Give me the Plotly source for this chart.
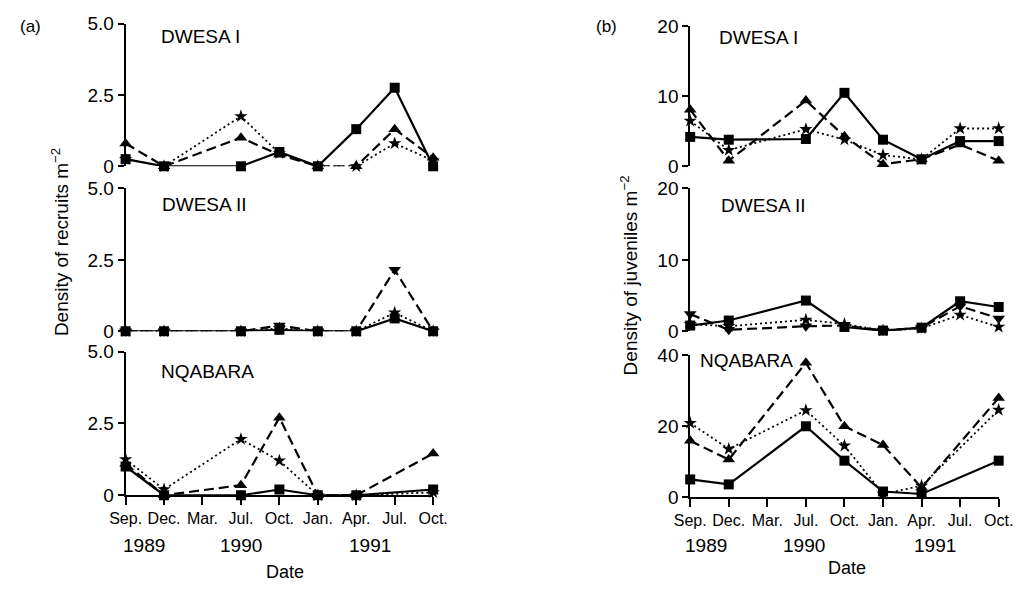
import plotly.graph_objects as go

# ---------------- data ----------------
dates = ["Sep. 1989", "Dec. 1989", "Mar. 1990", "Jul. 1990", "Oct. 1990",
         "Jan. 1991", "Apr. 1991", "Jul. 1991", "Oct. 1991"]
month_labels = ["Sep.", "Dec.", "Mar.", "Jul.", "Oct.", "Jan.", "Apr.", "Jul.", "Oct."]
year_labels = ["1989", "1990", "1991"]
sites = ["DWESA I", "DWESA II", "NQABARA"]

# (a) Density of recruits m-2  (None = not sampled)
rec_dwesa1_square = [0.25, 0, None, 0, 0.5, 0, 1.3, 2.75, 0]
rec_dwesa1_tri = [0.8, 0, None, 1.0, 0.4, 0, 0, 1.3, 0.3]
rec_dwesa1_star = [0.25, 0, None, 1.75, 0.45, 0, 0, 0.8, 0.2]

rec_dwesa2_square = [0, 0, None, 0, 0.05, 0, 0, 0.45, 0]
rec_dwesa2_tri = [0, 0, None, 0, 0.2, 0, 0, 2.15, 0]
rec_dwesa2_star = [0, 0, None, 0, 0.1, 0, 0, 0.65, 0]

rec_nqabara_square = [1.0, 0, None, 0, 0.2, 0, 0, None, 0.2]
rec_nqabara_tri = [1.1, 0, None, 0.35, 2.7, 0, 0, None, 1.45]
rec_nqabara_star = [1.25, 0.2, None, 1.95, 1.2, 0, 0, None, 0.1]

# (b) Density of juveniles m-2
juv_dwesa1_square = [4.2, 3.8, None, 3.9, 10.5, 3.8, 1.0, 3.6, 3.6]
juv_dwesa1_tri = [8.1, 0.8, None, 9.4, 4.3, 0.3, 1.0, 3.1, 0.8]
juv_dwesa1_star = [6.5, 2.3, None, 5.3, 3.8, 1.6, 1.0, 5.4, 5.4]

juv_dwesa2_square = [0.8, 1.5, None, 4.3, 0.6, 0.1, 0.5, 4.2, 3.4]
juv_dwesa2_tri = [2.4, 0.2, None, 0.7, 0.8, 0.1, 0.5, 3.5, 1.8]
juv_dwesa2_star = [1.0, 0.7, None, 1.6, 1.0, 0.1, 0.4, 2.3, 0.6]

juv_nqabara_square = [5.0, 3.6, None, 20.0, 10.3, 1.6, 0.9, None, 10.3]
juv_nqabara_tri = [15.9, 10.6, None, 37.9, 20.0, 14.7, 2.7, None, 28.0]
juv_nqabara_star = [20.9, 13.6, None, 24.5, 14.5, 0.9, 3.2, None, 24.6]

# ---------------- figure ----------------
W, H = 1036, 595
fig = go.Figure()

panels = [
    ("", rec_dwesa1_square, rec_dwesa1_tri, rec_dwesa1_star, "triangle-up"),
    ("2", rec_dwesa2_square, rec_dwesa2_tri, rec_dwesa2_star, "triangle-down"),
    ("3", rec_nqabara_square, rec_nqabara_tri, rec_nqabara_star, "triangle-up"),
    ("4", juv_dwesa1_square, juv_dwesa1_tri, juv_dwesa1_star, "triangle-up"),
    ("5", juv_dwesa2_square, juv_dwesa2_tri, juv_dwesa2_star, "triangle-down"),
    ("6", juv_nqabara_square, juv_nqabara_tri, juv_nqabara_star, "triangle-up"),
]

for suf, sq, tri, st, trisym in panels:
    xa, ya = "x" + suf, "y" + suf
    fig.add_trace(go.Scatter(x=dates, y=st, xaxis=xa, yaxis=ya, mode="lines+markers",
                             connectgaps=True, cliponaxis=False,
                             line=dict(color="black", width=1.8, dash="2px,3px"),
                             marker=dict(symbol="star", size=10, color="black")))
    fig.add_trace(go.Scatter(x=dates, y=tri, xaxis=xa, yaxis=ya, mode="lines+markers",
                             connectgaps=True, cliponaxis=False,
                             line=dict(color="black", width=2.2, dash="10px,5px"),
                             marker=dict(symbol=trisym, size=11, color="black")))
    fig.add_trace(go.Scatter(x=dates, y=sq, xaxis=xa, yaxis=ya, mode="lines+markers",
                             connectgaps=True, cliponaxis=False,
                             line=dict(color="black", width=2.2),
                             marker=dict(symbol="square", size=10, color="black")))


def px_x(p):
    return p / W


def px_y(p):
    return 1 - p / H


# pixel geometry of each subplot: (x0, x1, y_bottom, y_top)
geom = {
    "": (113, 430, 162, 14),
    "2": (113, 430, 333, 185),
    "3": (113, 430, 503, 354),
    "4": (695, 1013, 162, 17),
    "5": (695, 1013, 333, 185),
    "6": (695, 1013, 505, 358),
}
yticks = {
    "": ([0, 2.5, 5], ["0", "2.5", "5.0"], [0, 5]),
    "2": ([0, 2.5, 5], ["0", "2.5", "5.0"], [0, 5]),
    "3": ([0, 2.5, 5], ["0", "2.5", "5.0"], [0, 5]),
    "4": ([0, 10, 20], ["0", "10", "20"], [0, 20]),
    "5": ([0, 10, 20], ["0", "10", "20"], [0, 20]),
    "6": ([0, 20, 40], ["0", "20", "40"], [0, 40]),
}

font_family = "Arial, Liberation Sans, sans-serif"
layout = dict(
    width=W, height=H, margin=dict(l=0, r=0, t=0, b=0),
    paper_bgcolor="white", plot_bgcolor="white", showlegend=False,
    font=dict(family=font_family, color="black"),
)
for suf, (x0, x1, yb, yt) in geom.items():
    bottom = suf in ("3", "6")
    xa = dict(domain=[px_x(x0), px_x(x1)], anchor="y" + suf, type="category",
              categoryorder="array", categoryarray=dates, range=[0, 8],
              showgrid=False, zeroline=False)
    if bottom:
        xa.update(showline=True, linecolor="black", linewidth=1.8, ticks="outside",
                  ticklen=8, tickwidth=1.5, tickcolor="black", tickvals=dates,
                  ticktext=month_labels, tickangle=0,
                  tickfont=dict(size=16, family=font_family, color="black"))
    else:
        xa.update(visible=False)
    tv, tt, rng = yticks[suf]
    ya = dict(domain=[px_y(yb), px_y(yt)], anchor="x" + suf, range=rng,
              showline=True, linecolor="black", linewidth=1.8, ticks="outside",
              ticklen=6, tickwidth=1.5, tickcolor="black", tickvals=tv, ticktext=tt,
              showgrid=False, zeroline=False,
              tickfont=dict(size=19, family=font_family, color="black"))
    layout["xaxis" + suf] = xa
    layout["yaxis" + suf] = ya

fig.update_layout(**layout)

ann = []


def add_text(txt, x, y, size, xref="paper", xanchor="center", angle=0):
    ann.append(dict(text=txt, x=x, y=y, xref=xref, yref="paper",
                    xanchor=xanchor, yanchor="middle", textangle=angle,
                    showarrow=False,
                    font=dict(size=size, family=font_family, color="black")))


# site labels
site_pos = [(147, 27), (148, 202), (147, 375), (723, 29), (725, 203), (703, 363)]
for i, (px, py) in enumerate(site_pos):
    add_text(sites[i % 3], px_x(px), px_y(py), 19, xanchor="left")
# panel letters
for txt, px, py in [("(a)", 15, 17), ("(b)", 609, 17)]:
    add_text(txt, px_x(px), px_y(py), 17)
# year labels (positions in category-index units)
for xref, yy, xs in [("x3", 555, [0.48, 3.0, 6.35]), ("x6", 555, [0.4, 2.95, 6.35])]:
    for lab, xv in zip(year_labels, xs):
        add_text(lab, xv, px_y(yy), 19, xref=xref)
# x titles
for px, py in [(277, 583), (857, 578)]:
    add_text("Date", px_x(px), px_y(py), 18)
# y titles
for txt, px, py in [("Density of recruits m<sup>−2</sup>", 46, 241),
                    ("Density of juveniles m<sup>−2</sup>", 632, 275)]:
    add_text(txt, px_x(px), px_y(py), 19, angle=-90)
fig.update_layout(annotations=ann)

fig.write_html("out.html")
